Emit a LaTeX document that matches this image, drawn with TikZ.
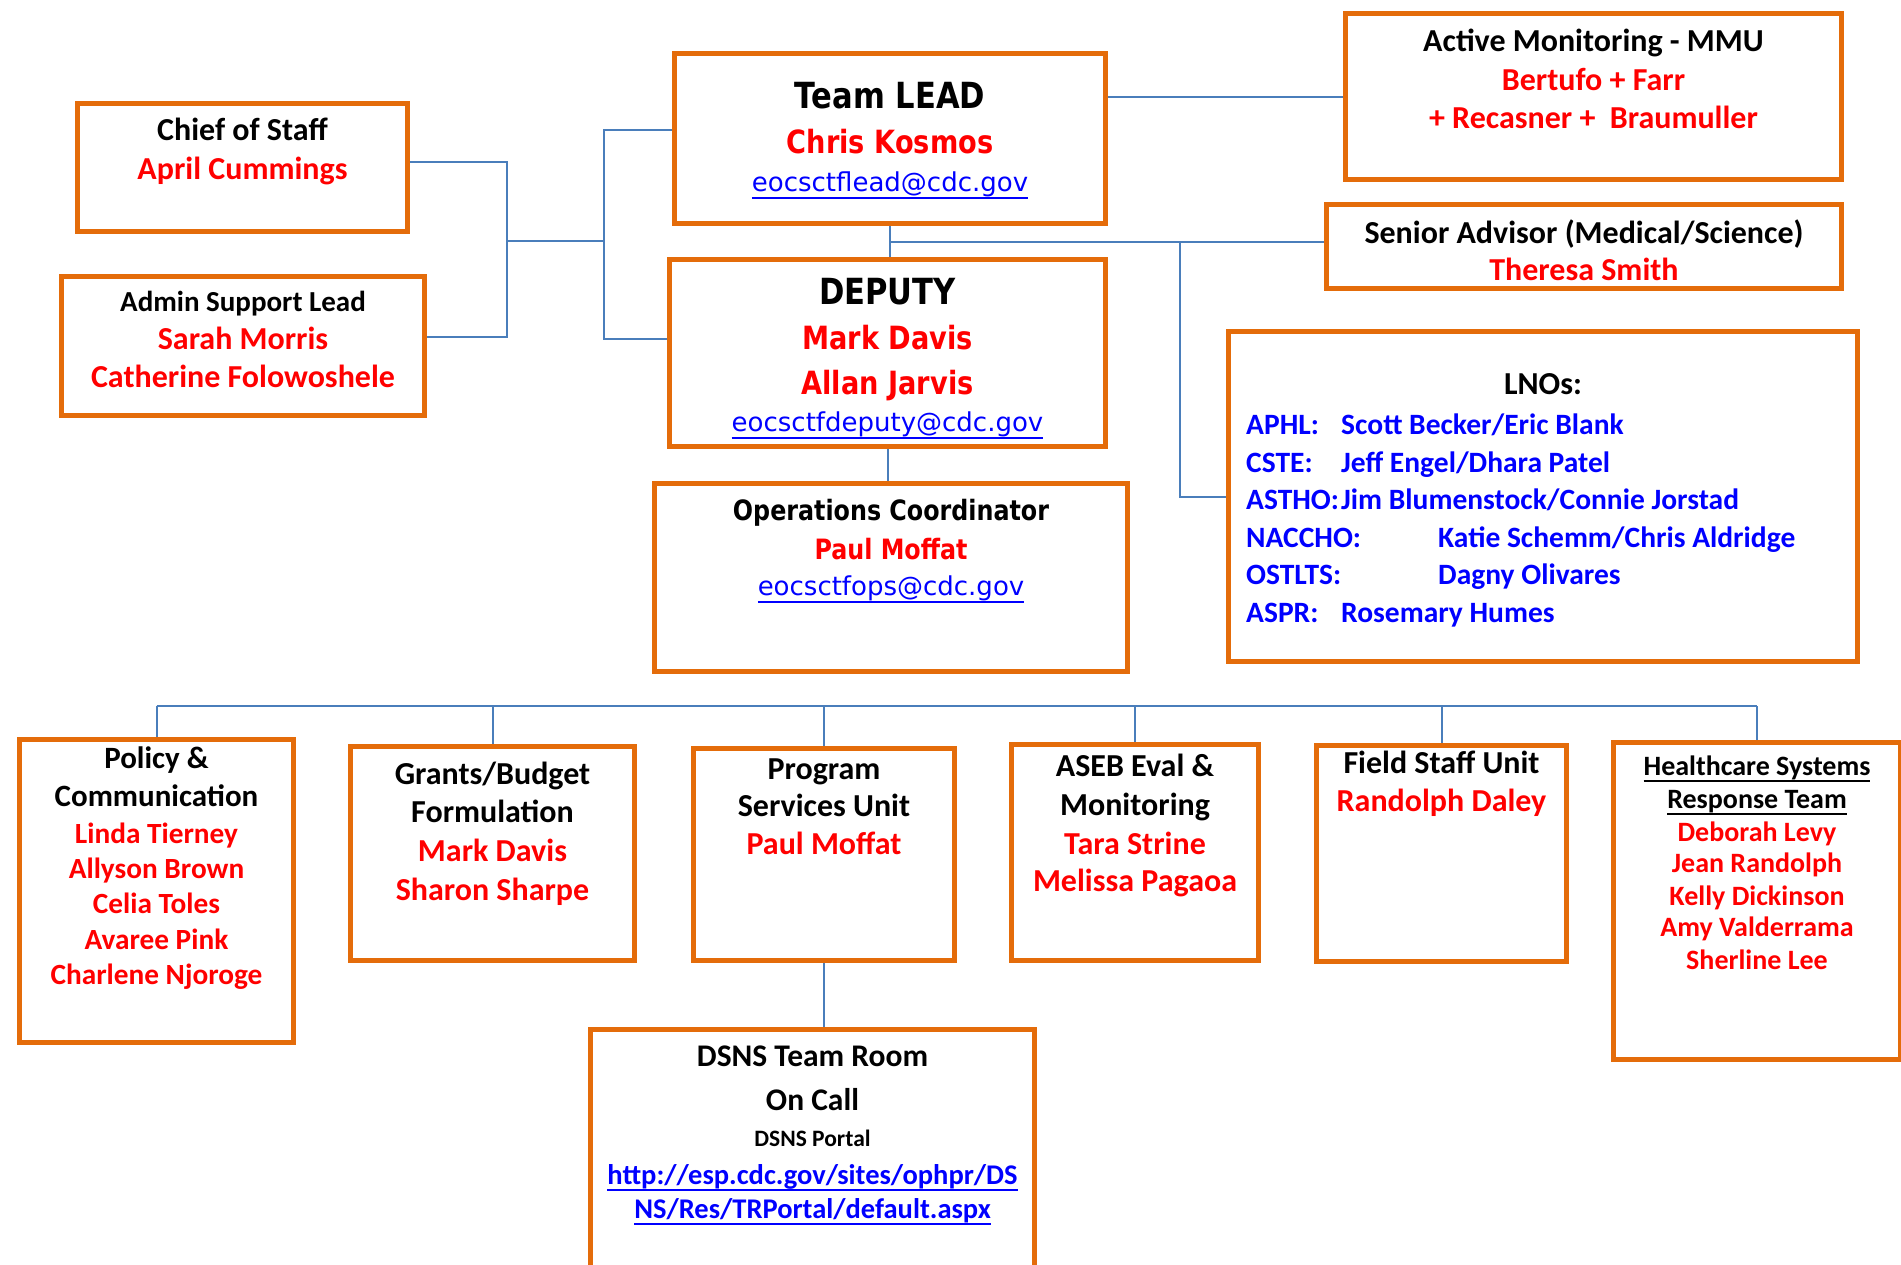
\documentclass[tikz,border=0pt]{standalone}
\usepackage{fontspec}
\setmainfont{Carlito}
\newfontfamily\vfont[FakeStretch=0.85]{DejaVu Sans}
\newfontfamily\vreg{DejaVu Sans}
\definecolor{boxorange}{HTML}{E46C0A}
\definecolor{connblue}{HTML}{4A7EBB}
\definecolor{namered}{HTML}{FF0000}
\definecolor{linkblue}{HTML}{0000FF}
\newcommand\fsz[1]{\fontsize{#1}{#1}\selectfont}
\newcommand\uline[2][2pt]{\leavevmode\vtop{\hbox{#2}\kern0.5pt\hrule height #1}}
\tikzset{
  box/.style={draw=boxorange, line width=5pt, inner sep=0pt, anchor=north west, fill=white},
  conn/.style={draw=connblue, line width=2pt},
  tl/.style={inner sep=0pt, anchor=base},
  cal/.style={font=\bfseries\fsz{#1}},
  cal/.default=32,
  red/.style={text=namered},
  vb/.style={font=\vfont\bfseries\fsz{#1}},
  mail/.style={font=\vreg\fsz{26}, text=linkblue},
  lnol/.style={inner sep=0pt, anchor=base west, text=linkblue, font=\bfseries\fsz{29.5}},
}
\begin{document}
\begin{tikzpicture}[x=1pt,y=-1pt]
\fill[white] (0,0) rectangle (1901,1264);
\useasboundingbox (0,0) rectangle (1901,1264);

% junction points
\coordinate (jL) at (507,241);
\coordinate (jM) at (604,241);
\coordinate (jR) at (1180,242);

% boxes
\node[box, minimum width=330pt, minimum height=128pt] (chief) at (75,101) {};
\node[box, minimum width=363pt, minimum height=139pt] (admin) at (59,274) {};
\node[box, minimum width=431pt, minimum height=170pt] (lead) at (672,51) {};
\node[box, minimum width=436pt, minimum height=187pt] (deputy) at (667,257) {};
\node[box, minimum width=473pt, minimum height=188pt] (ops) at (652,481) {};
\node[box, minimum width=496pt, minimum height=166pt] (active) at (1343,11) {};
\node[box, minimum width=515pt, minimum height=84pt] (senior) at (1324,202) {};
\node[box, minimum width=629pt, minimum height=330pt] (lno) at (1226,329) {};
\node[box, minimum width=274pt, minimum height=303pt] (policy) at (17,737) {};
\node[box, minimum width=284pt, minimum height=214pt] (grants) at (348,744) {};
\node[box, minimum width=261pt, minimum height=212pt] (prog) at (691,746) {};
\node[box, minimum width=247pt, minimum height=216pt] (aseb) at (1009,742) {};
\node[box, minimum width=250pt, minimum height=216pt] (field) at (1314,743) {};
\node[box, minimum width=287pt, minimum height=317pt] (hc) at (1611,740) {};
\node[box, minimum width=444pt, minimum height=260pt] (dsns) at (588,1027) {};

% connector paths
\draw[conn] (chief.east |- 0,162) -| (jL);
\draw[conn] (admin.east |- 0,337) -| (jL);
\draw[conn] (jL) -- (jM);
\draw[conn] (lead.west |- 0,130) -| (jM);
\draw[conn] (deputy.west |- 0,339) -| (jM);
\draw[conn] (lead.east |- 0,97) -- (active.west |- 0,97);
\draw[conn] (lead.south) -- (lead.south |- deputy.north);
\draw[conn] (lead.south |- jR) -- (senior.west |- jR);
\draw[conn] (jR) |- (lno.west);
\draw[conn] (deputy.south) -- (deputy.south |- ops.north);
\draw[conn] (policy.north |- 0,706) -- (hc.north |- 0,706);
\foreach \n in {policy,grants,prog,aseb,field,hc}
  \draw[conn] (\n.north) -- (\n.north |- 0,706);
\draw[conn] (prog.south) -- (prog.south |- dsns.north);

% Chief of Staff
\node[tl,cal] (chief1) at (chief.center |- 0,140) {Chief of Staff};
\node[tl,cal,red] (chief2) at (chief.center |- 0,179) {April Cummings};
% Admin
\node[tl,cal=29] (admin1) at (admin.center |- 0,311) {Admin Support Lead};
\node[tl,cal,red] (admin2) at (admin.center |- 0,349) {Sarah Morris};
\node[tl,cal,red] (admin3) at (admin.center |- 0,387) {Catherine Folowoshele};
% Team lead
\node[tl,vb=36] (lead1) at (lead.center |- 0,108) {Team LEAD};
\node[tl,vb=32,red] (lead2) at (lead.center |- 0,153) {Chris Kosmos};
\node[tl,mail] (lead3) at (lead.center |- 0,191) {\uline{eocsctflead@cdc.gov}};
% Deputy
\node[tl,vb=36] (dep1) at (deputy.center |- 0,304) {DEPUTY};
\node[tl,vb=32,red] (dep2) at (deputy.center |- 0,349) {Mark Davis};
\node[tl,vb=32,red] (dep3) at (deputy.center |- 0,394) {Allan Jarvis};
\node[tl,mail] (dep4) at (deputy.center |- 0,431) {\uline{eocsctfdeputy@cdc.gov}};
% Ops
\node[tl,vb=28] (ops1) at (ops.center |- 0,520) {Operations Coordinator};
\node[tl,vb=28,red] (ops2) at (ops.center |- 0,559) {Paul Moffat};
\node[tl,mail] (ops3) at (ops.center |- 0,595) {\uline{eocsctfops@cdc.gov}};
% Active monitoring
\node[tl,cal] (act1) at (active.center |- 0,51) {Active Monitoring - MMU};
\node[tl,cal,red] (act2) at (active.center |- 0,90) {Bertufo + Farr};
\node[tl,cal,red] (act3) at (active.center |- 0,128) {+ Recasner +\ \ Braumuller};
% Senior
\node[tl,cal] (sen1) at (senior.center |- 0,243) {Senior Advisor (Medical/Science)};
\node[tl,cal,red] (sen2) at (senior.center |- 0,280) {Theresa Smith};
% LNOs
\node[tl,cal] (lno0) at (lno.center |- 0,394) {LNOs:};
\node[lnol] (lno1a) at (1246,434) {APHL:};
\node[lnol] (lno1b) at (1341,434) {Scott Becker/Eric Blank};
\node[lnol] (lno2a) at (1246,472) {CSTE:};
\node[lnol] (lno2b) at (1341,472) {Jeff Engel/Dhara Patel};
\node[lnol] (lno3a) at (1246,509) {ASTHO:};
\node[lnol] (lno3b) at (1341,509) {Jim Blumenstock/Connie Jorstad};
\node[lnol] (lno4a) at (1246,547) {NACCHO:};
\node[lnol] (lno4b) at (1438,547) {Katie Schemm/Chris Aldridge};
\node[lnol] (lno5a) at (1246,584) {OSTLTS:};
\node[lnol] (lno5b) at (1438,584) {Dagny Olivares};
\node[lnol] (lno6a) at (1246,622) {ASPR:};
\node[lnol] (lno6b) at (1341,622) {Rosemary Humes};
% Policy
\node[tl,cal=31] (pol1) at (policy.center |- 0,768) {Policy \&};
\node[tl,cal=31] (pol2) at (policy.center |- 0,806) {Communication};
\node[tl,cal=29.3,red] (pol3) at (policy.center |- 0,843) {Linda Tierney};
\node[tl,cal=29.3,red] (pol4) at (policy.center |- 0,878) {Allyson Brown};
\node[tl,cal=29.3,red] (pol5) at (policy.center |- 0,913) {Celia Toles};
\node[tl,cal=29.3,red] (pol6) at (policy.center |- 0,949) {Avaree Pink};
\node[tl,cal=29.3,red] (pol7) at (policy.center |- 0,984) {Charlene Njoroge};
% Grants
\node[tl,cal] (gr1) at (grants.center |- 0,784) {Grants/Budget};
\node[tl,cal] (gr2) at (grants.center |- 0,822) {Formulation};
\node[tl,cal,red] (gr3) at (grants.center |- 0,861) {Mark Davis};
\node[tl,cal,red] (gr4) at (grants.center |- 0,900) {Sharon Sharpe};
% Program
\node[tl,cal] (pr1) at (prog.center |- 0,779) {Program};
\node[tl,cal] (pr2) at (prog.center |- 0,816) {Services Unit};
\node[tl,cal,red] (pr3) at (prog.center |- 0,854) {Paul Moffat};
% ASEB
\node[tl,cal] (as1) at (aseb.center |- 0,776) {ASEB Eval \&};
\node[tl,cal] (as2) at (aseb.center |- 0,815) {Monitoring};
\node[tl,cal,red] (as3) at (aseb.center |- 0,854) {Tara Strine};
\node[tl,cal,red] (as4) at (aseb.center |- 0,891) {Melissa Pagaoa};
% Field
\node[tl,cal] (fs1) at (field.center |- 0,773) {Field Staff Unit};
\node[tl,cal,red] (fs2) at (field.center |- 0,811) {Randolph Daley};
% Healthcare
\node[tl,cal=28] (hc1) at (hc.center |- 0,775) {\uline{Healthcare Systems}};
\node[tl,cal=28] (hc2) at (hc.center |- 0,808) {\uline{Response Team}};
\node[tl,cal=28,red] (hc3) at (hc.center |- 0,841) {Deborah Levy};
\node[tl,cal=28,red] (hc4) at (hc.center |- 0,872) {Jean Randolph};
\node[tl,cal=28,red] (hc5) at (hc.center |- 0,905) {Kelly Dickinson};
\node[tl,cal=28,red] (hc6) at (hc.center |- 0,936) {Amy Valderrama};
\node[tl,cal=28,red] (hc7) at (hc.center |- 0,969) {Sherline Lee};
% DSNS
\node[tl,cal=31.5] (ds1) at (dsns.center |- 0,1066) {DSNS Team Room};
\node[tl,cal=31.5] (ds2) at (dsns.center |- 0,1110) {On Call};
\node[tl,cal=23.5] (ds3) at (dsns.center |- 0,1146) {DSNS Portal};
\node[tl,cal=28.5,text=linkblue] (ds4) at (dsns.center |- 0,1184) {\uline{http://esp.cdc.gov/sites/ophpr/DS}};
\node[tl,cal=28.5,text=linkblue] (ds5) at (dsns.center |- 0,1218) {\uline{NS/Res/TRPortal/default.aspx}};
\end{tikzpicture}
\end{document}
